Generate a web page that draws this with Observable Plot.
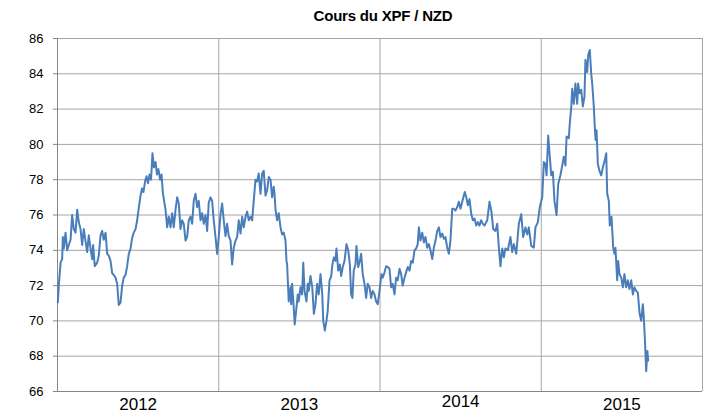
<!DOCTYPE html>
<html>
<head>
<meta charset="utf-8">
<script src="https://cdn.jsdelivr.net/npm/d3@7"></script>
<script src="https://cdn.jsdelivr.net/npm/@observablehq/plot@0.6"></script>
<style>
  html, body { margin: 0; padding: 0; background: #fff; }
  #title { height: 30px; width: 706px; text-align: center; font: bold 15px "Liberation Sans", Arial, sans-serif; line-height: 32px; padding-left: 60px; box-sizing: border-box; color: #000; letter-spacing: -0.2px; }
</style>
</head>
<body>
<div id="title">Cours du XPF / NZD</div>
<div id="chart"></div>
<script>
const titleText = "Cours du XPF / NZD";
const yTicks = [66, 68, 70, 72, 74, 76, 78, 80, 82, 84, 86];
const yearBoundaries = [2013, 2014, 2015];
const yearLabels = ["2012", "2013", "2014", "2015"];
const yearLabelPos = [2012.5, 2013.5, 2014.5, 2015.5];

// [decimal year, XPF per NZD]
const rates2012 = [[2012.002,71.05],[2012.008,72.0],[2012.019,73.3],[2012.029,73.5],[2012.033,74.75],[2012.039,74.1],[2012.050,75.0],[2012.060,74.0],[2012.070,74.3],[2012.081,74.6],[2012.091,76.0],[2012.101,75.2],[2012.112,75.0],[2012.122,76.3],[2012.132,75.6],[2012.143,75.2],[2012.153,74.3],[2012.163,75.2],[2012.174,74.5],[2012.184,73.9],[2012.194,74.85],[2012.205,74.1],[2012.215,73.5],[2012.221,74.3],[2012.231,73.1],[2012.246,73.3],[2012.256,73.7],[2012.267,74.85],[2012.277,75.1],[2012.287,74.6],[2012.298,75.0],[2012.308,73.8],[2012.318,73.7],[2012.329,73.4],[2012.339,72.7],[2012.349,72.6],[2012.360,72.45],[2012.370,72.1],[2012.380,70.9],[2012.391,71.05],[2012.401,72.0],[2012.411,72.45],[2012.422,72.6],[2012.432,73.1],[2012.442,73.8],[2012.453,74.1],[2012.463,74.7],[2012.473,75.0],[2012.484,75.2],[2012.494,75.7],[2012.504,76.4],[2012.515,77.1],[2012.524,77.5],[2012.533,77.3],[2012.543,77.9],[2012.552,78.2],[2012.561,77.8],[2012.571,78.3],[2012.580,78.0],[2012.589,79.5],[2012.598,78.7],[2012.608,79.0],[2012.617,78.3],[2012.626,78.6],[2012.636,78.0],[2012.645,78.3],[2012.654,77.2],[2012.670,76.3],[2012.680,75.3],[2012.690,75.9],[2012.701,75.3],[2012.711,76.1],[2012.721,75.3],[2012.732,76.3],[2012.742,77.0],[2012.752,76.65],[2012.763,75.2],[2012.773,75.7],[2012.783,75.5],[2012.794,74.55],[2012.804,74.75],[2012.814,75.7],[2012.825,75.9],[2012.835,75.5],[2012.845,76.8],[2012.856,77.2],[2012.866,76.45],[2012.876,76.8],[2012.887,75.7],[2012.897,76.1],[2012.907,75.5],[2012.918,76.0],[2012.928,75.1],[2012.938,76.7],[2012.949,77.0],[2012.959,76.8],[2012.969,75.7],[2012.980,74.75],[2012.990,73.8]];
const rates2013 = [[2013.000,74.75],[2013.011,76.05],[2013.021,76.65],[2013.031,75.7],[2013.042,74.8],[2013.052,75.5],[2013.062,74.8],[2013.073,74.55],[2013.083,73.2],[2013.093,74.15],[2013.104,74.55],[2013.114,74.75],[2013.124,75.7],[2013.135,74.95],[2013.145,75.9],[2013.155,75.3],[2013.166,75.9],[2013.176,76.2],[2013.186,75.7],[2013.197,75.9],[2013.207,75.7],[2013.217,76.8],[2013.228,78.0],[2013.238,77.9],[2013.248,78.35],[2013.259,77.2],[2013.269,78.35],[2013.279,78.5],[2013.290,77.1],[2013.300,77.4],[2013.310,78.15],[2013.321,78.0],[2013.331,77.0],[2013.341,77.6],[2013.346,77.2],[2013.352,76.3],[2013.362,75.7],[2013.372,76.1],[2013.383,75.3],[2013.393,74.9],[2013.403,75.0],[2013.414,74.55],[2013.420,73.4],[2013.424,73.2],[2013.434,71.1],[2013.445,71.9],[2013.449,70.95],[2013.455,72.1],[2013.465,70.75],[2013.471,69.8],[2013.482,70.75],[2013.490,71.5],[2013.496,71.1],[2013.507,71.9],[2013.517,71.5],[2013.524,73.3],[2013.532,71.7],[2013.544,71.1],[2013.552,72.1],[2013.558,71.7],[2013.569,72.55],[2013.580,71.9],[2013.590,70.4],[2013.600,70.95],[2013.610,72.1],[2013.620,71.5],[2013.631,72.65],[2013.642,71.5],[2013.648,70.0],[2013.658,69.45],[2013.668,70.0],[2013.676,70.6],[2013.687,72.3],[2013.697,72.5],[2013.705,73.2],[2013.714,73.6],[2013.724,73.4],[2013.730,74.1],[2013.741,72.85],[2013.751,73.2],[2013.759,72.55],[2013.769,73.05],[2013.780,73.4],[2013.792,74.35],[2013.803,74.0],[2013.813,73.2],[2013.821,71.5],[2013.829,71.3],[2013.837,72.85],[2013.848,73.2],[2013.854,74.25],[2013.865,73.05],[2013.875,73.4],[2013.883,73.8],[2013.893,72.65],[2013.904,72.1],[2013.914,71.3],[2013.924,72.1],[2013.935,71.9],[2013.945,71.3],[2013.955,71.7],[2013.966,71.5],[2013.976,71.1],[2013.986,70.95],[2013.997,71.7]];
const rates2014 = [[2014.009,72.65],[2014.017,72.45],[2014.028,72.75],[2014.038,73.1],[2014.048,73.05],[2014.059,72.95],[2014.069,71.9],[2014.079,72.1],[2014.090,71.5],[2014.100,72.45],[2014.110,72.3],[2014.121,72.95],[2014.131,72.65],[2014.141,72.0],[2014.152,72.45],[2014.162,72.75],[2014.172,73.05],[2014.183,72.85],[2014.193,73.4],[2014.203,73.3],[2014.214,74.0],[2014.224,74.1],[2014.234,74.35],[2014.241,75.3],[2014.251,74.55],[2014.262,75.0],[2014.272,74.45],[2014.282,74.75],[2014.293,74.15],[2014.303,74.35],[2014.313,74.0],[2014.324,73.5],[2014.334,74.15],[2014.344,74.55],[2014.355,75.1],[2014.365,75.3],[2014.375,74.75],[2014.386,74.95],[2014.396,74.65],[2014.406,74.75],[2014.417,74.15],[2014.427,73.8],[2014.437,74.55],[2014.448,76.35],[2014.458,76.35],[2014.468,76.25],[2014.479,76.45],[2014.489,76.75],[2014.499,76.35],[2014.510,76.75],[2014.520,77.1],[2014.526,77.3],[2014.535,77.0],[2014.545,76.55],[2014.555,76.9],[2014.566,76.05],[2014.576,75.7],[2014.586,75.8],[2014.597,75.4],[2014.607,75.6],[2014.617,75.4],[2014.627,75.7],[2014.638,75.5],[2014.648,75.4],[2014.665,75.7],[2014.679,76.75],[2014.691,76.2],[2014.702,75.2],[2014.716,75.1],[2014.727,75.5],[2014.737,74.15],[2014.747,73.1],[2014.758,74.1],[2014.768,73.6],[2014.778,74.1],[2014.793,74.0],[2014.809,74.75],[2014.820,73.9],[2014.830,74.35],[2014.845,73.8],[2014.861,75.5],[2014.876,76.05],[2014.888,74.75],[2014.902,75.3],[2014.913,74.9],[2014.923,75.3],[2014.938,74.25],[2014.954,74.15],[2014.964,75.3],[2014.979,75.6],[2014.991,76.45]];
const rates2015 = [[2015.006,77.0],[2015.016,79.0],[2015.026,78.9],[2015.033,78.25],[2015.043,80.5],[2015.053,79.3],[2015.062,78.25],[2015.072,78.45],[2015.082,76.8],[2015.095,76.0],[2015.105,77.75],[2015.119,78.25],[2015.130,78.8],[2015.140,79.3],[2015.150,78.8],[2015.157,80.45],[2015.171,80.35],[2015.177,81.2],[2015.186,82.1],[2015.192,83.15],[2015.202,82.3],[2015.212,83.45],[2015.223,82.3],[2015.229,83.45],[2015.237,82.9],[2015.248,83.1],[2015.258,82.15],[2015.268,82.7],[2015.274,84.8],[2015.285,84.1],[2015.291,85.05],[2015.301,85.35],[2015.310,84.0],[2015.316,83.45],[2015.326,82.15],[2015.333,80.8],[2015.337,80.25],[2015.343,80.8],[2015.351,78.9],[2015.361,78.5],[2015.372,78.25],[2015.382,78.7],[2015.394,79.1],[2015.403,79.5],[2015.409,77.2],[2015.419,76.8],[2015.425,75.4],[2015.436,75.9],[2015.446,74.15],[2015.454,73.8],[2015.460,74.15],[2015.471,72.3],[2015.477,73.4],[2015.485,72.65],[2015.496,72.45],[2015.506,71.9],[2015.516,72.65],[2015.527,71.9],[2015.537,72.3],[2015.547,71.8],[2015.558,72.3],[2015.568,71.5],[2015.578,71.9],[2015.589,71.7],[2015.599,71.6],[2015.610,70.4],[2015.620,70.0],[2015.630,70.95],[2015.636,70.2],[2015.643,68.9],[2015.651,67.15],[2015.658,68.3],[2015.663,67.75]];

const data = [...rates2012, ...rates2013, ...rates2014, ...rates2015].map(([t, v]) => ({t, v}));
const labelMap = new Map(yearLabelPos.map((p, i) => [p, yearLabels[i]]));

document.getElementById("title").textContent = titleText;

const axisStyle = {tickSize: 0, fontSize: 17, tickFormat: d => labelMap.get(d), label: null};

const chart = Plot.plot({
  width: 706,
  height: 384,
  marginLeft: 57,
  marginRight: 4,
  marginTop: 8,
  marginBottom: 23,
  style: {fontFamily: "'Liberation Sans', Arial, sans-serif", background: "#fff", color: "#000", overflow: "visible"},
  x: {type: "linear", domain: [2012, 2016]},
  y: {domain: [66, 86]},
  marks: [
    Plot.gridY(yTicks, {stroke: "#a6a6a6", strokeOpacity: 1, strokeWidth: 1}),
    Plot.gridX(yearBoundaries, {stroke: "#a6a6a6", strokeOpacity: 1, strokeWidth: 1}),
    Plot.ruleX([2016], {stroke: "#a6a6a6"}),
    Plot.ruleX([2012], {stroke: "#868686"}),
    Plot.ruleY([66], {stroke: "#868686"}),
    Plot.axisY(yTicks, {tickSize: 4, tickPadding: 10, fontSize: 13, stroke: "#868686", fill: "#000", label: null}),
    Plot.axisX([yearLabelPos[0], yearLabelPos[1], yearLabelPos[3]], {...axisStyle, tickPadding: 6}),
    Plot.axisX([yearLabelPos[2]], {...axisStyle, tickPadding: 3}),
    Plot.line(data, {x: "t", y: "v", stroke: "#4a7ebb", strokeWidth: 2, strokeLinejoin: "round"})
  ]
});
document.getElementById("chart").appendChild(chart);
</script>
</body>
</html>
